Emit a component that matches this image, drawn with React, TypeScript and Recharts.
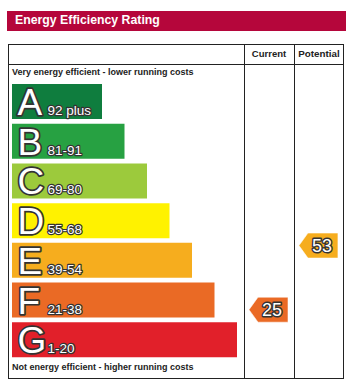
import React from "react";
import { BarChart, Bar, XAxis, YAxis, Cell, LabelList, ReferenceDot } from "recharts";

const bands = ["A", "B", "C", "D", "E", "F", "G"];
const bandRanges = ["92 plus", "81-91", "69-80", "55-68", "39-54", "21-38", "1-20"];
const bandMin = [92, 81, 69, 55, 39, 21, 1];
const bandMax = [100, 91, 80, 68, 54, 38, 20];
const barLengths = [4, 5, 6, 7, 8, 9, 10];
const bandColors = ["#0f7d3e", "#27a142", "#9cca3c", "#fff200", "#f6ad1e", "#ea6a25", "#e1202a"];

const currentRating = 25;
const potentialRating = 53;

const chartData = bands.map((band, i) => ({ band, length: barLengths[i] }));

const W = 361;
const H = 389;
const BAR_SIZE = 35;
const FONT = "'Liberation Sans', Arial, Helvetica, sans-serif";
// arrow columns, in value-axis units (22.5px per unit)
const CURRENT_X = 11.4;
const POTENTIAL_X = 13.62;

function bandOf(rating: number) {
  return bands.findIndex((_, i) => rating >= bandMin[i] && rating <= bandMax[i]);
}

function BandLabel(props: any) {
  const { x, y, height, value } = props;
  const i = bands.indexOf(value);
  const base = y + height - 4;
  return (
    <g fontFamily={FONT}>
      <text
        x={x + 5.5}
        y={base}
        fontSize={37}
        fill="#fff"
        stroke="#333"
        strokeWidth={3.4}
        strokeLinejoin="round"
        paintOrder="stroke"
      >
        {value}
      </text>
      <text
        x={x + 35.5}
        y={base}
        fontSize={13.5}
        fill="#fff"
        stroke="#333"
        strokeWidth={2.4}
        strokeLinejoin="round"
        paintOrder="stroke"
      >
        {bandRanges[i]}
      </text>
    </g>
  );
}

function makeArrow(rating: number) {
  const i = bandOf(rating);
  const frac = (bandMax[i] - rating) / (bandMax[i] - bandMin[i]);
  const shift = (frac - 0.5) * BAR_SIZE;
  return (p: any) => {
    const cx = p.cx;
    const cy = p.cy + shift;
    const w = 39;
    const h = 25;
    const tip = 9;
    const l = cx - w / 2;
    const r = cx + w / 2;
    const pts = `${l},${cy} ${l + tip},${cy - h / 2} ${r},${cy - h / 2} ${r},${cy + h / 2} ${l + tip},${cy + h / 2}`;
    return (
      <g>
        <polygon points={pts} fill={bandColors[i]} stroke="#fff" strokeOpacity={0.55} strokeWidth={1} />
        <text
          x={cx + 3.5}
          y={cy + 6.5}
          textAnchor="middle"
          fontFamily={FONT}
          fontSize={18}
          fill="#fff"
          stroke="#333"
          strokeWidth={2.8}
          strokeLinejoin="round"
          paintOrder="stroke"
        >
          {rating}
        </text>
      </g>
    );
  };
}

const line = "#222";

export default function App() {
  const small: React.CSSProperties = {
    position: "absolute",
    fontFamily: FONT,
    fontWeight: "bold",
    color: "#222",
    whiteSpace: "nowrap",
    lineHeight: 1,
  };
  return (
    <div style={{ position: "absolute", left: 0, top: 0, width: W, height: H, background: "#fff" }}>
      <div
        style={{
          position: "absolute",
          left: 7,
          top: 11,
          width: 339,
          height: 20,
          background: "#b5063b",
        }}
      />
      <div style={{ ...small, left: 15, top: 14, fontSize: 12.3, color: "#fff" }}>Energy Efficiency Rating</div>

      {/* table frame */}
      <div style={{ position: "absolute", left: 8, top: 44, width: 336, height: 335, border: `1px solid ${line}`, boxSizing: "border-box" }} />
      <div style={{ position: "absolute", left: 8, top: 64, width: 336, height: 1, background: line }} />
      <div style={{ position: "absolute", left: 244, top: 44, width: 1, height: 335, background: line }} />
      <div style={{ position: "absolute", left: 294, top: 44, width: 1, height: 335, background: line }} />

      <div style={{ ...small, left: 244, width: 50, textAlign: "center", top: 48.5, fontSize: 9.5 }}>Current</div>
      <div style={{ ...small, left: 294, width: 50, textAlign: "center", top: 48.5, fontSize: 9.8 }}>Potential</div>
      <div style={{ ...small, left: 12, top: 68, fontSize: 9 }}>Very energy efficient - lower running costs</div>
      <div style={{ ...small, left: 12, top: 363, fontSize: 9 }}>Not energy efficient - higher running costs</div>

      <div style={{ position: "absolute", left: 0, top: 0 }}>
        <BarChart
          layout="vertical"
          width={W}
          height={H}
          data={chartData}
          margin={{ top: 82, bottom: 29, left: 12, right: 11.5 }}
        >
          <XAxis type="number" domain={[0, 15]} hide />
          <YAxis type="category" dataKey="band" hide />
          <Bar dataKey="length" barSize={BAR_SIZE} isAnimationActive={false}>
            {chartData.map((d, i) => (
              <Cell key={d.band} fill={bandColors[i]} />
            ))}
            <LabelList dataKey="band" content={BandLabel} />
          </Bar>
          <ReferenceDot
            x={CURRENT_X}
            y={bands[bandOf(currentRating)]}
            r={1}
            shape={makeArrow(currentRating)}
          />
          <ReferenceDot
            x={POTENTIAL_X}
            y={bands[bandOf(potentialRating)]}
            r={1}
            shape={makeArrow(potentialRating)}
          />
        </BarChart>
      </div>
    </div>
  );
}
